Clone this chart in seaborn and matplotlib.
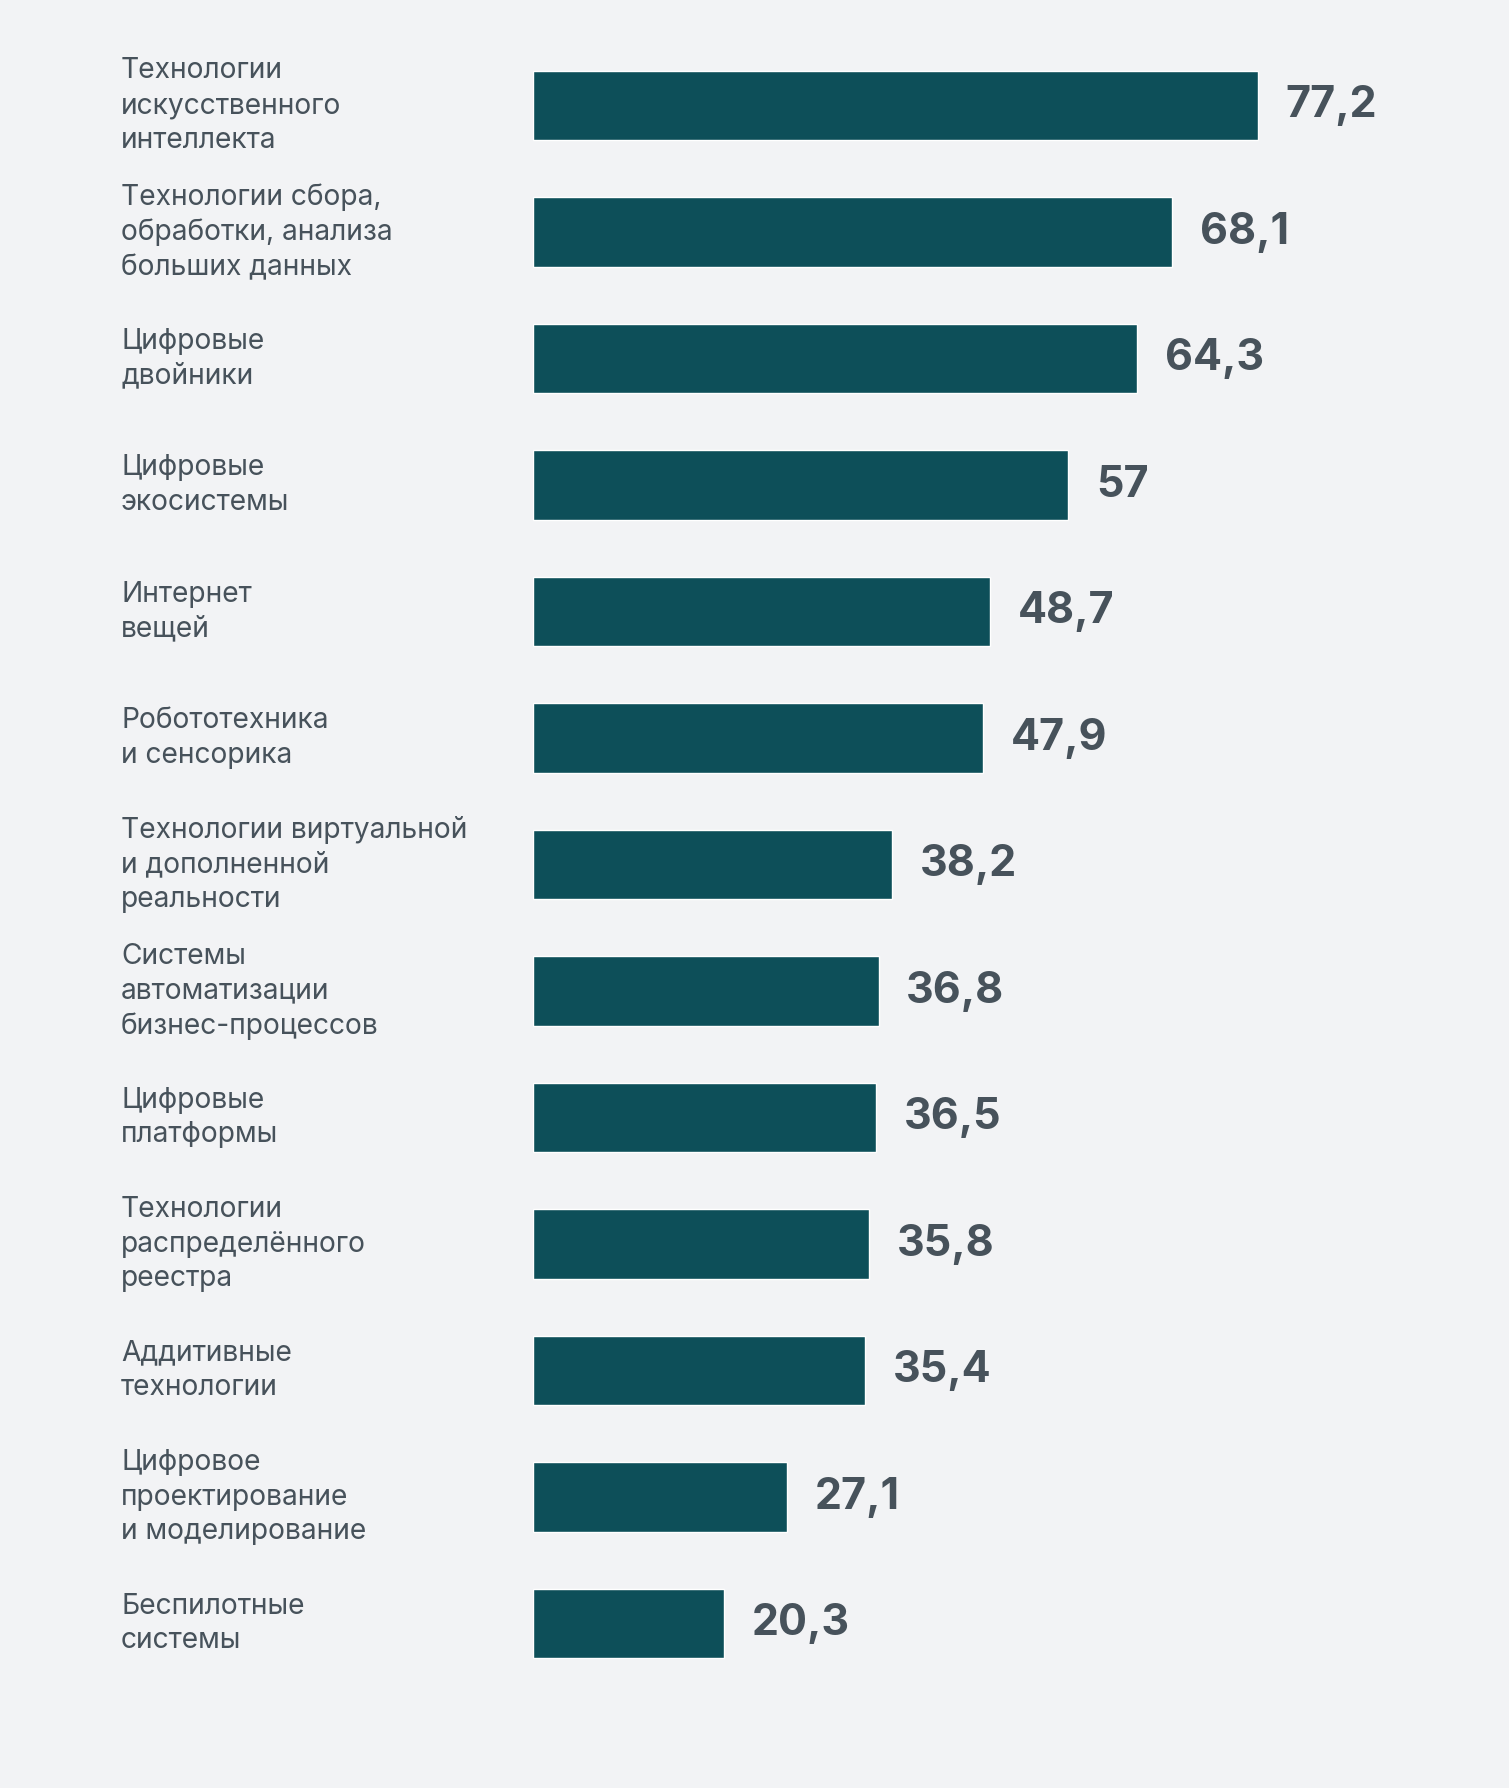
import matplotlib
matplotlib.use("Agg")
import matplotlib.pyplot as plt
import matplotlib.transforms as mtransforms
import pandas as pd
import seaborn as sns

# данные
categories = [
    "Технологии\nискусственного\nинтеллекта",
    "Технологии сбора,\nобработки, анализа\nбольших данных",
    "Цифровые\nдвойники",
    "Цифровые\nэкосистемы",
    "Интернет\nвещей",
    "Робототехника\nи сенсорика",
    "Технологии виртуальной\nи дополненной\nреальности",
    "Системы\nавтоматизации\nбизнес-процессов",
    "Цифровые\nплатформы",
    "Технологии\nраспределённого\nреестра",
    "Аддитивные\nтехнологии",
    "Цифровое\nпроектирование\nи моделирование",
    "Беспилотные\nсистемы",
]
values = [77.2, 68.1, 64.3, 57, 48.7, 47.9, 38.2, 36.8, 36.5, 35.8, 35.4, 27.1, 20.3]
value_labels = ["77,2", "68,1", "64,3", "57", "48,7", "47,9", "38,2",
                "36,8", "36,5", "35,8", "35,4", "27,1", "20,3"]

bg = "#f2f3f5"
bar_color = "#0d4f59"
text_color = "#47525b"

sns.set_style("white")
plt.rcParams["font.family"] = ["Inter", "DejaVu Sans"]

W, H = 1509, 1788
fig = plt.figure(figsize=(W / 100, H / 100), dpi=100, facecolor=bg)
ax = fig.add_axes([533 / W, 0, 1 - 533 / W, 1])
ax.set_facecolor(bg)

df = pd.DataFrame({"cat": categories, "val": values})
sns.barplot(data=df, x="val", y="cat", orient="h", color=bar_color,
            saturation=1, width=0.55, ax=ax)

ax.set_xlim(0, (W - 533) / 9.39)
ax.set_ylim(13.30, -0.834)
ax.set_xticks([])
ax.set_yticks([])
ax.set_xlabel("")
ax.set_ylabel("")
for s in ax.spines.values():
    s.set_visible(False)

# подписи категорий слева
trans = mtransforms.blended_transform_factory(fig.transFigure, ax.transData)
for i, c in enumerate(categories):
    ax.text(121 / W, i, c, transform=trans, ha="left", va="center",
            fontsize=20.3, color=text_color, linespacing=1.36)

# значения
for i, (v, lbl) in enumerate(zip(values, value_labels)):
    ax.annotate(lbl, xy=(v, i), xytext=(20, 0), textcoords="offset points",
                ha="left", va="center", fontsize=31, fontweight="bold",
                color=text_color)

fig.savefig("out.png", dpi=100, facecolor=bg)
